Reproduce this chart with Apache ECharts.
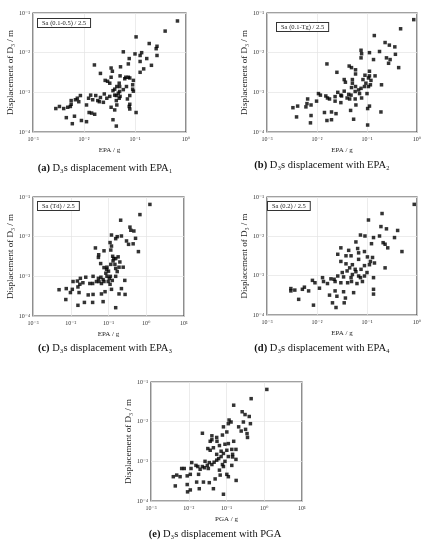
<!DOCTYPE html>
<html>
<head>
<meta charset="utf-8">
<script src="https://cdn.jsdelivr.net/npm/echarts@6/dist/echarts.min.js"></script>
<style>
  html, body { margin: 0; padding: 0; background: #fff; }
  #chart { width: 431px; height: 550px; }
</style>
</head>
<body>
<div id="chart"></div>
<script>
// [x (g), displacement (m)]
const ptsA = [[0.68,6.3e-2],[0.39,3.5e-2],[0.105,2.5e-2],[0.19,1.7e-2],[0.27,1.45e-2],[0.26,1.26e-2],[0.059,1.05e-2],[0.1,9.3e-3],[0.135,1.0e-2],[0.126,8.5e-3],[0.27,8.5e-3],[0.077,7.1e-3],[0.17,7.1e-3],[0.126,6.0e-3],[0.074,5.2e-3],[0.016,4.9e-3],[0.21,4.8e-3],[0.034,4.1e-3],[0.052,4.4e-3],[0.148,3.9e-3],[0.036,3.4e-3],[0.126,3.2e-3],[0.021,3.0e-3],[0.051,2.6e-3],[0.066,2.4e-3],[0.074,2.4e-3],[0.079,2.3e-3],[0.093,2.0e-3],[0.026,2.0e-3],[0.032,1.7e-3],[0.049,1.7e-3],[0.044,1.4e-3],[0.068,1.4e-3],[0.09,1.55e-3],[0.09,1.2e-3],[0.037,1.1e-3],[0.05,1.05e-3],[0.025,9.1e-4],[0.04,8.5e-4],[0.043,8.3e-4],[0.051,7.9e-4],[0.0085,8.3e-4],[0.0135,8.5e-4],[0.017,8.3e-4],[0.021,7.4e-4],[0.079,8.3e-4],[0.0074,7.1e-4],[0.0123,7.1e-4],[0.0186,6.2e-4],[0.028,7.1e-4],[0.043,6.2e-4],[0.0056,6.2e-4],[0.0079,5.8e-4],[0.02,5.8e-4],[0.044,4.8e-4],[0.0054,4.4e-4],[0.079,5.0e-4],[0.0112,4.8e-4],[0.0033,4.4e-4],[0.0028,3.9e-4],[0.004,3.9e-4],[0.0048,4.2e-4],[0.034,4.2e-4],[0.04,3.6e-4],[0.077,4.4e-4],[0.079,3.8e-4],[0.0126,3.1e-4],[0.0141,3.0e-4],[0.0162,2.8e-4],[0.105,3.1e-4],[0.0045,2.3e-4],[0.0065,2.5e-4],[0.0089,1.95e-4],[0.0112,1.82e-4],[0.0059,1.62e-4],[0.037,2.04e-4],[0.043,1.41e-4],[0.04,1.2e-3],[0.047,9.5e-4],[0.059,1.17e-3],[0.063,2.2e-3],[0.034,2.4e-3],[0.029,1.9e-3],[0.0056,5.0e-4],[0.0068,6.5e-4],[0.0148,6.5e-4],[0.024,5.6e-4],[0.05,1.4e-3],[0.093,1.07e-3],[0.071,6.8e-4],[0.032,7.9e-4],[0.049,7.1e-4]]

const ptsB = [[0.86,6.8e-2],[0.47,4.0e-2],[0.14,2.7e-2],[0.23,1.8e-2],[0.28,1.55e-2],[0.36,1.4e-2],[0.178,1.07e-2],[0.076,1.15e-2],[0.112,1.0e-2],[0.078,9.4e-3],[0.37,9.1e-3],[0.245,7.4e-3],[0.29,6.7e-3],[0.076,7.4e-3],[0.135,6.7e-3],[0.27,5.4e-3],[0.0158,5.2e-3],[0.044,4.6e-3],[0.049,4.2e-3],[0.43,4.2e-3],[0.059,3.7e-3],[0.025,3.2e-3],[0.112,3.4e-3],[0.059,2.9e-3],[0.091,2.7e-3],[0.112,2.6e-3],[0.145,2.6e-3],[0.035,2.1e-3],[0.037,1.8e-3],[0.107,2.3e-3],[0.12,2.0e-3],[0.083,2.1e-3],[0.195,1.55e-3],[0.051,1.7e-3],[0.059,1.4e-3],[0.089,1.4e-3],[0.076,1.26e-3],[0.107,1.4e-3],[0.026,1.0e-3],[0.035,1.07e-3],[0.043,8.9e-4],[0.048,8.5e-4],[0.058,1.05e-3],[0.071,9.3e-4],[0.1,9.3e-4],[0.0107,9.3e-4],[0.0117,8.5e-4],[0.015,8.1e-4],[0.0162,7.2e-4],[0.023,7.8e-4],[0.031,8.1e-4],[0.0098,6.0e-4],[0.0065,6.8e-4],[0.023,6.0e-4],[0.045,6.8e-4],[0.058,6.8e-4],[0.078,7.2e-4],[0.03,5.5e-4],[0.0063,5.2e-4],[0.0076,4.8e-4],[0.006,4.3e-4],[0.0033,4.1e-4],[0.0041,4.5e-4],[0.06,4.8e-4],[0.112,4.5e-4],[0.103,3.9e-4],[0.047,3.5e-4],[0.0141,3.1e-4],[0.0195,3.2e-4],[0.024,2.9e-4],[0.19,3.2e-4],[0.0039,2.4e-4],[0.0076,2.6e-4],[0.0158,1.95e-4],[0.0195,2.04e-4],[0.054,2.1e-4],[0.0074,1.7e-4],[0.103,1.5e-4],[0.068,1.15e-3],[0.049,1.32e-3],[0.03,8.5e-4],[0.0178,6.8e-4],[0.095,1.7e-3],[0.117,1.55e-3],[0.04,7.2e-4],[0.051,2.1e-3]]

const ptsC = [[1.25,6.5e-2],[0.68,3.6e-2],[0.21,2.6e-2],[0.37,1.74e-2],[0.39,1.45e-2],[0.47,1.39e-2],[0.12,1.1e-2],[0.17,1.0e-2],[0.22,1.04e-2],[0.155,8.9e-3],[0.52,9.1e-3],[0.3,7.8e-3],[0.11,7.1e-3],[0.12,5.8e-3],[0.34,6.4e-3],[0.45,6.6e-3],[0.045,5.2e-3],[0.62,4.2e-3],[0.076,4.4e-3],[0.115,4.6e-3],[0.055,3.5e-3],[0.129,3.2e-3],[0.138,2.8e-3],[0.155,2.8e-3],[0.18,3.1e-3],[0.2,2.3e-3],[0.062,2.1e-3],[0.115,2.0e-3],[0.245,1.7e-3],[0.076,1.66e-3],[0.091,1.7e-3],[0.155,1.58e-3],[0.1,1.35e-3],[0.085,1.2e-3],[0.17,1.32e-3],[0.063,9.5e-4],[0.112,1.0e-3],[0.091,1.0e-3],[0.072,8.3e-4],[0.126,7.9e-4],[0.27,7.9e-4],[0.025,9.5e-4],[0.018,8.9e-4],[0.039,1.0e-3],[0.054,8.9e-4],[0.0115,7.4e-4],[0.015,7.6e-4],[0.032,6.6e-4],[0.038,6.6e-4],[0.056,7.4e-4],[0.065,6.6e-4],[0.098,7.4e-4],[0.0174,6.3e-4],[0.0155,5.4e-4],[0.0076,4.9e-4],[0.011,4.7e-4],[0.0049,4.6e-4],[0.12,4.7e-4],[0.22,4.9e-4],[0.081,4.1e-4],[0.0166,3.9e-4],[0.19,3.6e-4],[0.275,3.5e-4],[0.029,3.4e-4],[0.039,3.5e-4],[0.065,3.6e-4],[0.0074,2.6e-4],[0.023,2.2e-4],[0.038,2.2e-4],[0.072,2.3e-4],[0.0155,1.86e-4],[0.155,1.62e-4],[0.132,2.45e-3],[0.089,1.5e-3],[0.148,2.0e-3],[0.048,7.4e-4],[0.076,7.4e-4],[0.021,6.9e-4],[0.105,8.9e-4],[0.19,1.7e-3],[0.0098,3.9e-4],[0.11,6.3e-4],[0.155,1.0e-3],[0.054,3.0e-3]]

const ptsD = [[0.88,6.5e-2],[0.2,3.8e-2],[0.107,2.6e-2],[0.19,1.77e-2],[0.245,1.55e-2],[0.41,1.41e-2],[0.074,1.08e-2],[0.091,1.02e-2],[0.178,1.02e-2],[0.135,9.3e-3],[0.355,9.3e-3],[0.21,6.9e-3],[0.23,6.3e-3],[0.26,5.1e-3],[0.06,7.2e-3],[0.123,6.5e-3],[0.03,5.1e-3],[0.043,4.4e-3],[0.065,4.9e-3],[0.5,4.1e-3],[0.089,4.1e-3],[0.068,3.8e-3],[0.026,3.5e-3],[0.038,3.2e-3],[0.048,3.2e-3],[0.102,3.0e-3],[0.129,2.9e-3],[0.03,2.3e-3],[0.038,2.0e-3],[0.068,2.6e-3],[0.089,1.8e-3],[0.117,2.3e-3],[0.141,2.1e-3],[0.23,1.58e-3],[0.051,1.9e-3],[0.058,1.45e-3],[0.06,1.26e-3],[0.04,1.32e-3],[0.076,1.45e-3],[0.032,1.2e-3],[0.026,9.8e-4],[0.034,9.3e-4],[0.051,1.07e-3],[0.068,9.8e-4],[0.089,9.8e-4],[0.135,8.9e-4],[0.0129,8.9e-4],[0.019,8.3e-4],[0.0081,7.6e-4],[0.0091,6.6e-4],[0.0135,7.1e-4],[0.0162,6.3e-4],[0.023,7.1e-4],[0.03,6.6e-4],[0.041,6.6e-4],[0.049,7.1e-4],[0.063,6.3e-4],[0.081,7.1e-4],[0.0056,5.1e-4],[0.0112,4.8e-4],[0.003,4.7e-4],[0.003,4.1e-4],[0.0036,4.3e-4],[0.0051,4.5e-4],[0.0068,4.1e-4],[0.023,4.1e-4],[0.034,3.9e-4],[0.054,3.7e-4],[0.135,4.5e-4],[0.135,3.4e-4],[0.0178,3.2e-4],[0.025,3.0e-4],[0.037,2.7e-4],[0.0043,2.5e-4],[0.0204,2.04e-4],[0.035,2.04e-4],[0.0085,1.78e-4],[0.024,1.55e-4],[0.045,1.58e-3],[0.048,8.9e-4],[0.074,8.9e-4],[0.022,8.1e-4],[0.112,1.9e-3],[0.1,1.2e-3]]

const ptsE = [[1.17,6.5e-2],[0.45,3.8e-2],[0.155,2.6e-2],[0.26,1.78e-2],[0.31,1.51e-2],[0.4,1.35e-2],[0.117,1.1e-2],[0.132,9.8e-3],[0.112,8.9e-3],[0.28,9.8e-3],[0.43,8.9e-3],[0.21,7.4e-3],[0.245,5.8e-3],[0.32,6.4e-3],[0.083,7.4e-3],[0.102,5.5e-3],[0.35,5.0e-3],[0.023,5.1e-3],[0.36,4.0e-3],[0.041,4.4e-3],[0.055,4.0e-3],[0.041,3.5e-3],[0.037,3.2e-3],[0.056,3.2e-3],[0.078,4.6e-3],[0.155,3.2e-3],[0.065,2.5e-3],[0.091,2.7e-3],[0.112,2.8e-3],[0.032,2.1e-3],[0.037,1.9e-3],[0.072,1.8e-3],[0.102,1.9e-3],[0.138,2.0e-3],[0.178,2.0e-3],[0.145,1.5e-3],[0.145,1.29e-3],[0.055,1.5e-3],[0.083,1.58e-3],[0.062,1.17e-3],[0.072,1.32e-3],[0.055,1.07e-3],[0.091,1.0e-3],[0.027,1.0e-3],[0.035,9.3e-4],[0.047,9.5e-4],[0.012,9.3e-4],[0.0155,7.9e-4],[0.0174,7.4e-4],[0.023,7.4e-4],[0.031,7.9e-4],[0.041,8.3e-4],[0.083,7.4e-4],[0.138,7.9e-4],[0.0065,6.6e-4],[0.0076,6.6e-4],[0.0115,6.6e-4],[0.02,6.3e-4],[0.026,6.9e-4],[0.033,6.6e-4],[0.065,6.0e-4],[0.011,4.7e-4],[0.0091,4.3e-4],[0.0039,4.1e-4],[0.0048,4.5e-4],[0.0059,4.1e-4],[0.0182,4.7e-4],[0.068,4.5e-4],[0.102,4.7e-4],[0.112,4.1e-4],[0.05,3.6e-4],[0.18,3.3e-4],[0.0162,3.0e-4],[0.0245,3.0e-4],[0.035,2.9e-4],[0.0044,2.4e-4],[0.0091,2.6e-4],[0.019,2.04e-4],[0.045,2.04e-4],[0.011,1.9e-4],[0.0093,1.7e-4],[0.083,1.48e-4],[0.078,8.3e-4],[0.112,1.32e-3],[0.045,2.2e-3],[0.178,1.12e-3]]

const xMaxes = [1, 1, 10, 1, 10]
const xNames = ['EPA / g', 'EPA / g', 'EPA / g', 'EPA / g', 'PGA / g']
const boxLabels = ['Sa (0.1-0.5) / 2.5', 'Sa (0.1-Tg) / 2.5', 'Sa (Td) / 2.5', 'Sa (0.2) / 2.5', '']
const captions = [
    '{b|(a)} D₃s displacement with EPA₁',
    '{b|(b)} D₃s displacement with EPA₂',
    '{b|(c)} D₃s displacement with EPA₃',
    '{b|(d)} D₃s displacement with EPA₄',
    '{b|(e)} D₃s displacement with PGA'
]
const allPts = [ptsA, ptsB, ptsC, ptsD, ptsE]

const grids = [
    { left: 33, top: 13, width: 153, height: 119 },
    { left: 267, top: 13, width: 150, height: 119 },
    { left: 33, top: 197, width: 151, height: 119 },
    { left: 267, top: 197, width: 150, height: 118 },
    { left: 151, top: 382, width: 151, height: 119 }
]
const capPos = [[105, 168], [322, 165], [105, 348], [322, 348], [215, 534]]
const boxPos = [[38, 19], [277, 23], [38, 202], [268, 202]]

const serif = '"Liberation Serif", "DejaVu Serif", serif'
const supMap = { '-': '⁻', '0': '⁰', '1': '¹', '2': '²', '3': '³', '4': '⁴', '5': '⁵' }
const powLabel = v => '10' + String(Math.round(Math.log10(v))).split('').map(c => supMap[c]).join('')

const axisCommon = {
    type: 'log',
    logBase: 10,
    nameLocation: 'middle',
    nameTextStyle: { fontFamily: serif, color: '#222' },
    axisLine: { show: false },
    axisTick: { show: false },
    axisLabel: { fontFamily: serif, fontSize: 6, color: '#333', formatter: powLabel },
    splitLine: { show: true, lineStyle: { color: '#e4e4e4', width: 0.7 } }
}

const chart = echarts.init(document.getElementById('chart'), null, { renderer: 'canvas' })

let graphic = []
captions.forEach((c, i) => {
    graphic.push({
        type: 'text',
        x: capPos[i][0],
        y: capPos[i][1],
        style: {
            text: c,
            fontFamily: serif,
            fontSize: 10.5,
            fill: '#111',
            textAlign: 'center',
            align: 'center',
            verticalAlign: 'middle',
            textVerticalAlign: 'middle',
            rich: { b: { fontWeight: 'bold', fontFamily: serif, fontSize: 10.5 } }
        }
    })
})
boxLabels.forEach((t, i) => {
    if (!t) return
    graphic.push({
        type: 'text',
        x: boxPos[i][0],
        y: boxPos[i][1],
        z: 100,
        style: {
            text: t,
            fontFamily: serif,
            fontSize: 6.5,
            fill: '#222',
            backgroundColor: '#fff',
            borderColor: '#333',
            borderWidth: 1,
            padding: [1, 4, 0, 4]
        }
    })
})

const option = {
    animation: false,
    backgroundColor: '#fff',
    grid: grids.map(g => Object.assign({ show: true, borderColor: '#444', borderWidth: 1.2, backgroundColor: '#fff' }, g)),
    xAxis: grids.map((g, i) => Object.assign({}, axisCommon, {
        gridIndex: i,
        min: 0.001,
        max: xMaxes[i],
        name: xNames[i],
        nameGap: 15,
        nameTextStyle: { fontFamily: serif, fontSize: 7, color: '#222' },
        axisLabel: Object.assign({}, axisCommon.axisLabel, { margin: 4 })
    })),
    yAxis: grids.map((g, i) => Object.assign({}, axisCommon, {
        gridIndex: i,
        min: 0.0001,
        max: 0.1,
        name: 'Displacement of D₃ / m',
        nameGap: 17,
        nameTextStyle: { fontFamily: serif, fontSize: 9, color: '#222' },
        axisLabel: Object.assign({}, axisCommon.axisLabel, { margin: 3 })
    })),
    series: allPts.map((pts, i) => ({
        type: 'scatter',
        xAxisIndex: i,
        yAxisIndex: i,
        symbol: 'rect',
        symbolSize: 3.5,
        itemStyle: { color: '#000' },
        data: pts
    })),
    graphic: graphic
}

chart.setOption(option)
</script>
</body>
</html>
